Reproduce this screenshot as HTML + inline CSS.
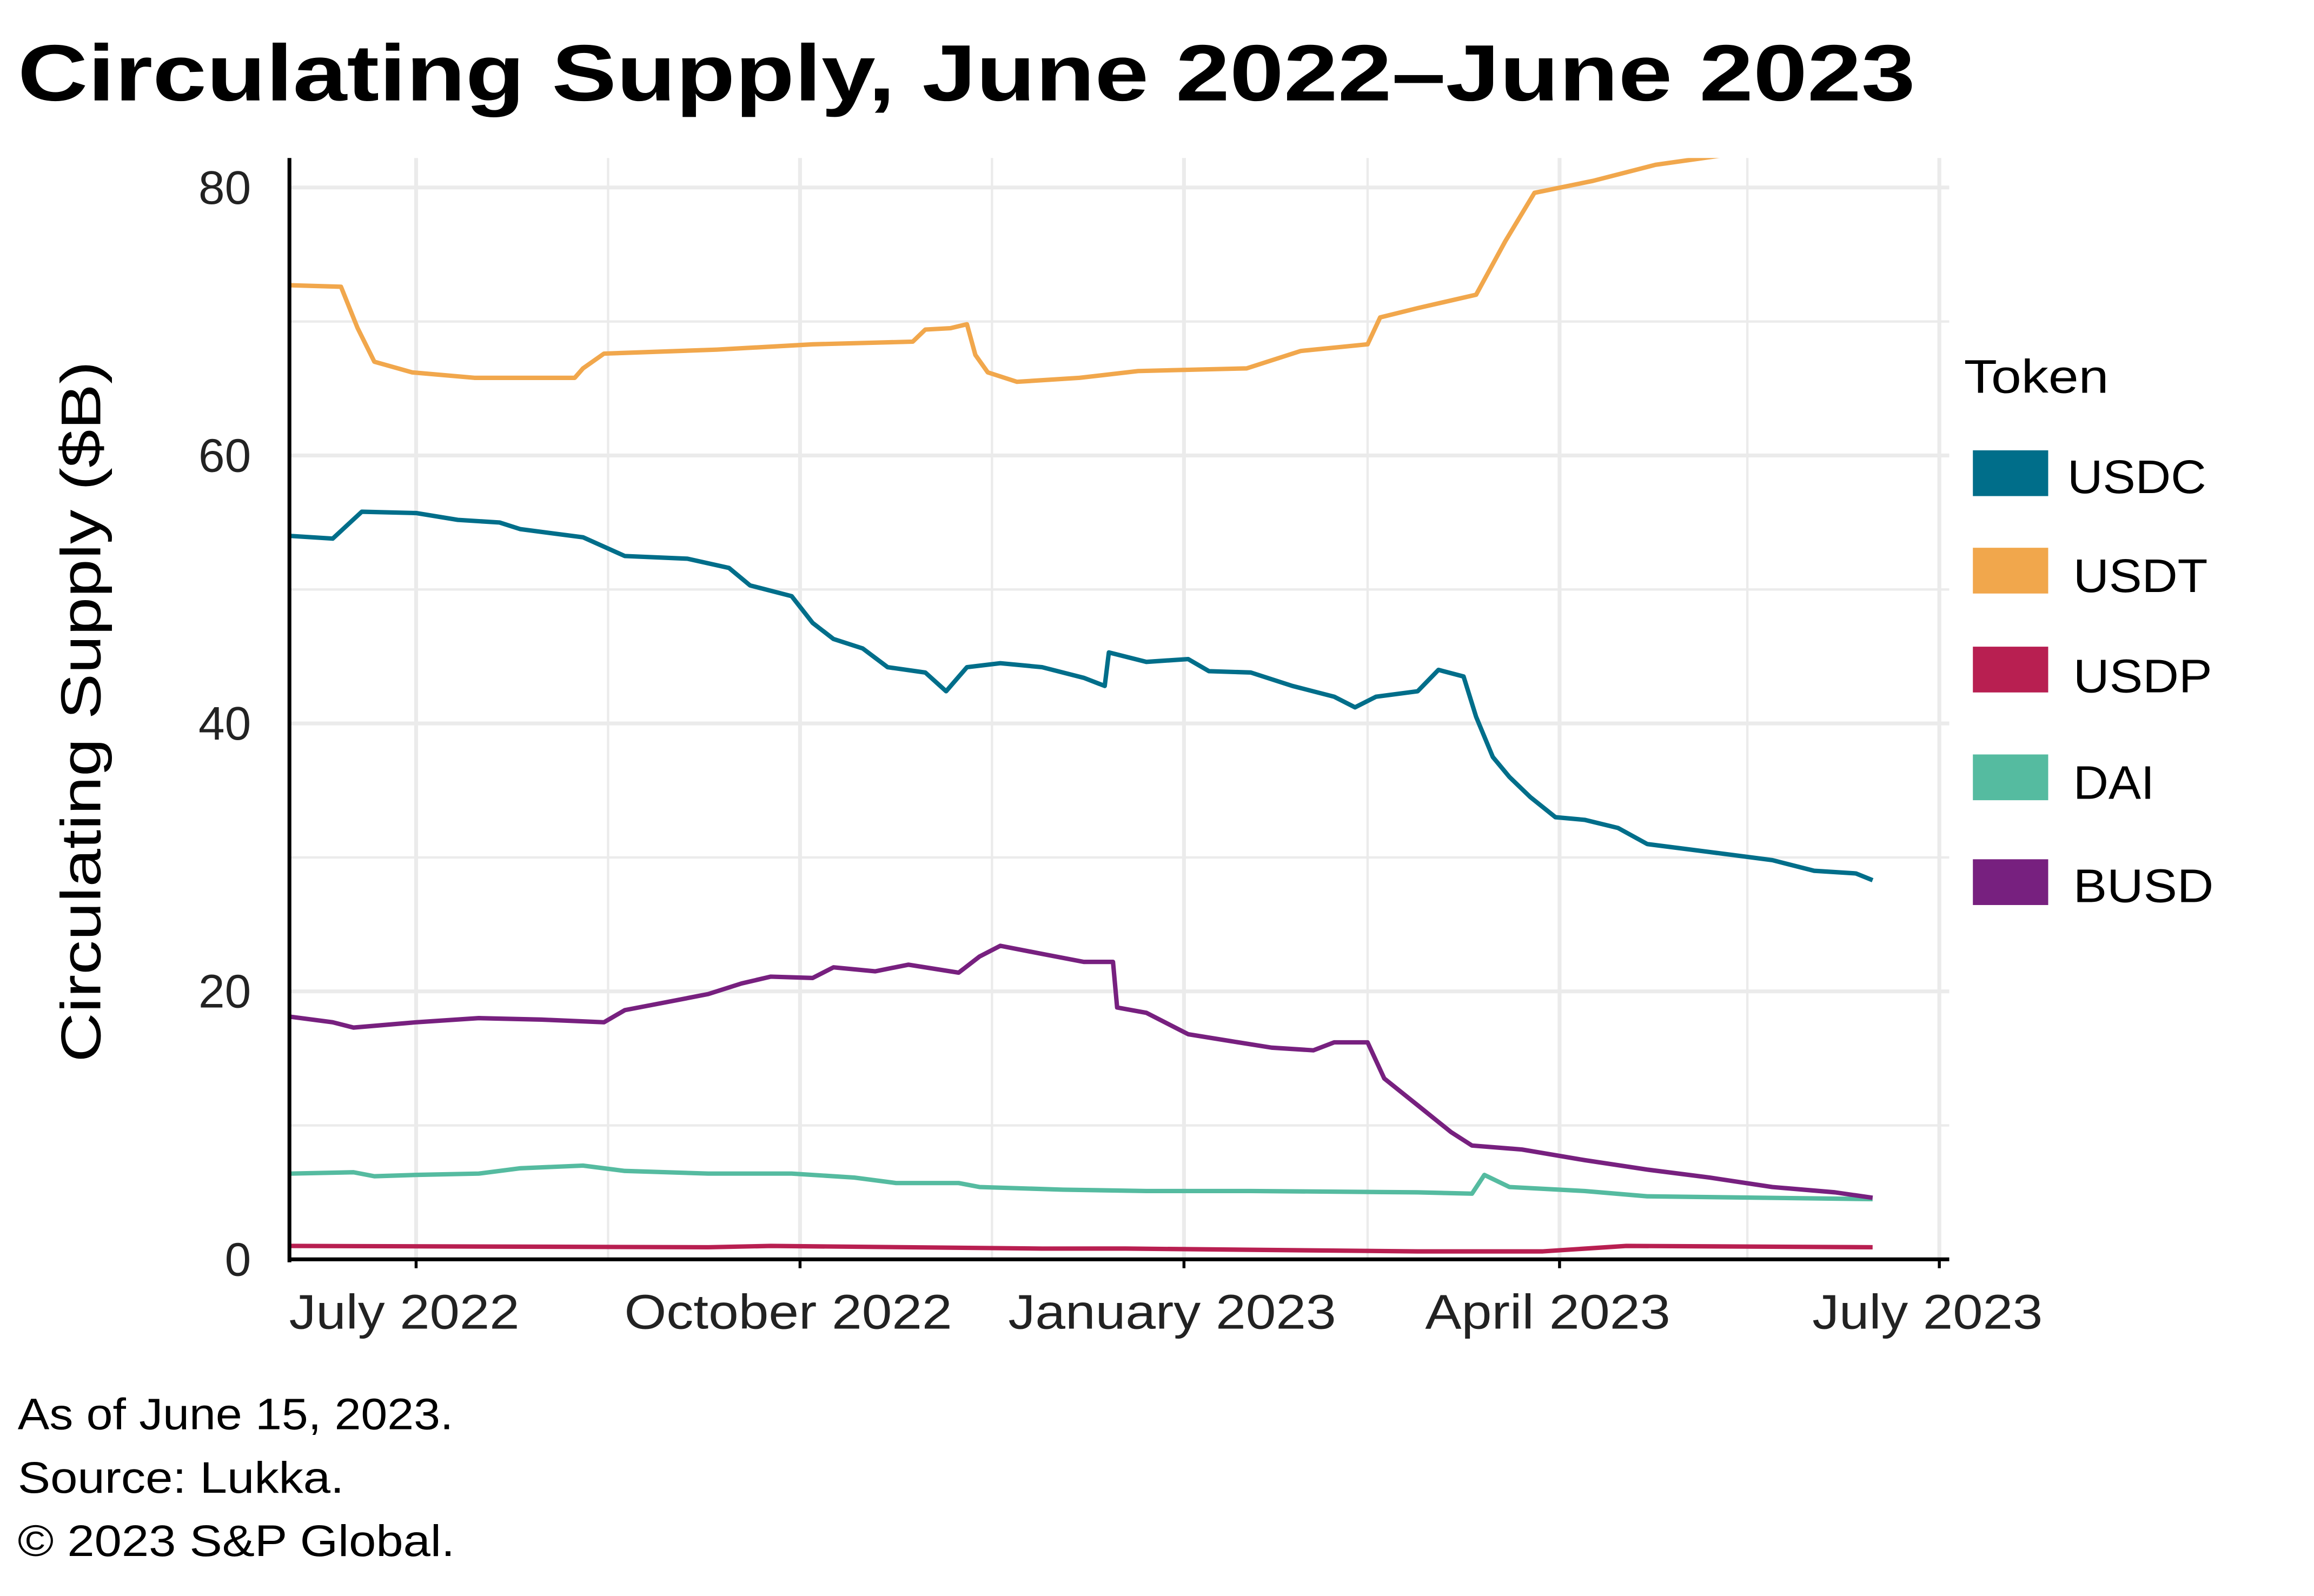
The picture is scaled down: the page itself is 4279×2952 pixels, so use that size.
<!DOCTYPE html>
<html><head><meta charset="utf-8"><style>
html,body{margin:0;padding:0;background:#fff;}
svg{display:block;font-family:"Liberation Sans",sans-serif;}
</style></head><body>
<svg id="chart" width="4279" height="2952" viewBox="0 0 1567 1081" xmlns="http://www.w3.org/2000/svg">
<rect width="1567" height="1081" fill="#fff"/>
<text x="12" y="68" font-size="54" font-weight="bold" fill="#000" textLength="1285" lengthAdjust="spacingAndGlyphs">Circulating Supply, June 2022–June 2023</text>
<g id="grid"></g>
<defs><clipPath id="plotclip"><rect x="196" y="107" width="1122" height="750"/></clipPath></defs>
<g id="series" clip-path="url(#plotclip)"></g>
<g id="axes"></g>
<text transform="translate(68,482) rotate(-90)" text-anchor="middle" font-size="38" fill="#000" textLength="475" lengthAdjust="spacingAndGlyphs">Circulating Supply ($B)</text>
<g>
<text x="1330" y="266" font-size="32" fill="#000" textLength="98" lengthAdjust="spacingAndGlyphs">Token</text>
<g><rect x="1336" y="305" width="51" height="31" fill="#006e8a"/><text x="1400" y="334" font-size="32" textLength="94" lengthAdjust="spacingAndGlyphs">USDC</text></g>
<g><rect x="1336" y="371" width="51" height="31" fill="#f1a74c"/><text x="1404" y="401" font-size="32" textLength="91" lengthAdjust="spacingAndGlyphs">USDT</text></g>
<g><rect x="1336" y="438" width="51" height="31" fill="#b81f51"/><text x="1404" y="469" font-size="32" textLength="94" lengthAdjust="spacingAndGlyphs">USDP</text></g>
<g><rect x="1336" y="511" width="51" height="31" fill="#55bba0"/><text x="1404" y="541" font-size="32" textLength="55" lengthAdjust="spacingAndGlyphs">DAI</text></g>
<g><rect x="1336" y="582" width="51" height="31" fill="#77207f"/><text x="1404" y="611" font-size="32" textLength="95" lengthAdjust="spacingAndGlyphs">BUSD</text></g>
</g>
<g font-size="30" fill="#000">
<text x="12" y="968" textLength="295" lengthAdjust="spacingAndGlyphs">As of June 15, 2023.</text>
<text x="12" y="1011" textLength="221" lengthAdjust="spacingAndGlyphs">Source: Lukka.</text>
<text x="12" y="1054" textLength="296" lengthAdjust="spacingAndGlyphs">© 2023 S&amp;P Global.</text>
</g>
</svg>
<script>
// days since 2022-06-01
const usdtDays=[0,12,16,20,29,44,68,70,75,102,125,149,152,158,162,164,167,174,189,203,229,242,258,261,270,284,291,298,312,327,343,360,379];
const usdtVals=[72.7,72.6,69.5,67.0,66.2,65.8,65.8,66.5,67.6,67.9,68.3,68.5,69.4,69.5,69.8,67.5,66.2,65.5,65.8,66.3,66.5,67.8,68.3,70.3,71.0,72.0,76.0,79.6,80.5,81.7,82.4,83.0,83.3];
const usdcDays=[0,10,17,30,40,50,55,70,80,95,105,110,120,125,130,137,143,152,157,162,170,180,190,195,196,205,215,220,230,240,250,255,260,270,275,281,284,288,292,297,303,310,318,325,340,355,365,375,379];
const usdcVals=[54.0,53.8,55.8,55.7,55.2,55.0,54.5,53.9,52.5,52.3,51.6,50.3,49.5,47.5,46.3,45.6,44.2,43.8,42.4,44.2,44.5,44.2,43.4,42.8,45.3,44.6,44.8,43.9,43.8,42.8,42.0,41.2,42.0,42.4,44.0,43.5,40.5,37.5,36.0,34.5,33.0,32.8,32.2,31.0,30.4,29.8,29.0,28.8,28.3];
const busdDays=[0,10,15,30,45,60,75,80,90,100,108,115,125,130,140,148,160,165,170,180,190,197,198,205,215,225,235,245,250,258,262,270,278,283,295,310,325,340,355,370,379];
const busdVals=[18.1,17.7,17.3,17.7,18.0,17.9,17.7,18.6,19.2,19.8,20.6,21.1,21.0,21.8,21.5,22.0,21.4,22.6,23.4,22.8,22.2,22.2,18.8,18.4,16.8,16.3,15.8,15.6,16.2,16.2,13.5,11.5,9.5,8.5,8.2,7.4,6.7,6.1,5.4,5.0,4.6];
const daiDays=[0,15,20,30,45,55,70,80,100,120,135,145,160,165,185,205,230,270,283,286,292,310,325,379];
const daiVals=[6.4,6.5,6.2,6.3,6.4,6.8,7.0,6.6,6.4,6.4,6.1,5.7,5.7,5.4,5.2,5.1,5.1,5.0,4.9,6.3,5.4,5.1,4.7,4.5];
const usdpDays=[0,100,115,180,200,270,300,320,379];
const usdpVals=[1.0,0.9,1.0,0.8,0.8,0.6,0.6,1.0,0.9];
const yTicks=[0,20,40,60,80];
const xTickLabels=["July 2022","October 2022","January 2023","April 2023","July 2023"];
const xTickDays=[30,122,214,304,395];

const NS="http://www.w3.org/2000/svg";
const X0=197,PX_PER_DAY=2.826,Y0=853,PX_PER_UNIT=9.075;
function xs(d){return X0+d*PX_PER_DAY;}
function ys(v){return Y0-v*PX_PER_UNIT;}
function mk(tag,attrs,parent){const e=document.createElementNS(NS,tag);for(const k in attrs)e.setAttribute(k,attrs[k]);parent.appendChild(e);return e;}
const grid=document.getElementById('grid');
for(let v=10;v<=80;v+=10){
  const l=mk('line',{x1:196,x2:1320,y1:ys(v),y2:ys(v),stroke:'#ebebeb','stroke-width':(v%20===0)?2.6:1.6},grid);
  
  
}
for(let i=0;i<xTickDays.length;i++){
  [xTickDays[i],xTickDays[i]-46].forEach((d,j)=>{
    if(xs(d)<200)return;
    const l=mk('line',{x1:xs(d),x2:xs(d),y1:107,y2:853,stroke:'#ebebeb','stroke-width':j===0?2.6:1.6},grid);
    
    
  });
}
const series=document.getElementById('series');
function drawLine(days,vals,color,name){
  const pts=days.map((d,i)=>xs(d).toFixed(1)+','+ys(vals[i]).toFixed(1)).join(' ');
  const p=mk('polyline',{points:pts,fill:'none',stroke:color,'stroke-width':3,'stroke-linejoin':'round'},series);
  
  
}
drawLine(usdpDays,usdpVals,'#b81f51','line-usdp');
drawLine(daiDays,daiVals,'#55bba0','line-dai');
drawLine(busdDays,busdVals,'#77207f','line-busd');
drawLine(usdcDays,usdcVals,'#006e8a','line-usdc');
drawLine(usdtDays,usdtVals,'#f1a74c','line-usdt');
const axes=document.getElementById('axes');
mk('line',{x1:196,x2:196,y1:107,y2:855,stroke:'#000','stroke-width':2.6},axes);
mk('line',{x1:195,x2:1320,y1:853,y2:853,stroke:'#000','stroke-width':2.6},axes);
yTicks.forEach(v=>{
  const t=mk('text',{x:170,y:ys(v)+11,'text-anchor':'end','font-size':32,fill:'#222'},axes);
  t.textContent=v;
  
  
});
const xLabelLens=[156,222,222,166,156];
xTickLabels.forEach((s,i)=>{
  mk('line',{x1:xs(xTickDays[i]),x2:xs(xTickDays[i]),y1:853,y2:859,stroke:'#000','stroke-width':2},axes);
  const t=mk('text',{x:xs(xTickDays[i])-8,y:900,'text-anchor':'middle','font-size':33,fill:'#222',textLength:xLabelLens[i],lengthAdjust:'spacingAndGlyphs'},axes);
  t.textContent=s;
  
  
});
</script>
</body></html>
